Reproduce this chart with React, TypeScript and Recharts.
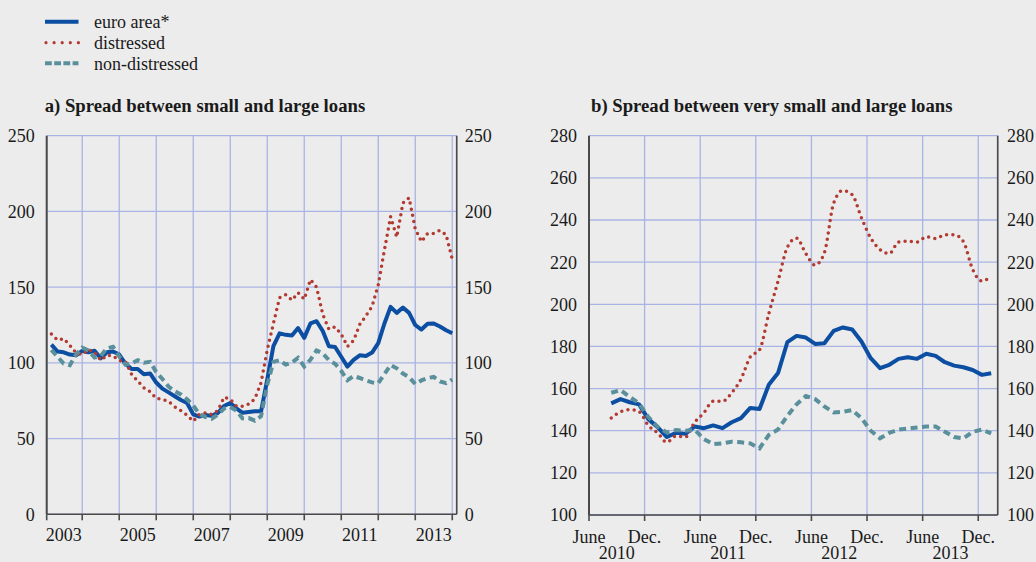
import React from "react";
import { LineChart, Line, XAxis, YAxis, CartesianGrid } from "recharts";

const FONT = "'Liberation Serif', 'Times New Roman', Times, serif";
const BG = "#ececec";
const GRID = "#aab4e4";
const AXIS = "#4a4a4a";
const INK = "#1a1a1a";
const BLUE = "#0b4ea2";
const RED = "#b23a30";
const TEAL = "#5a909b";

/* ── Panel a: bimonthly, end Feb 2003 … end Dec 2013 ───────────────── */
const A_START_YEAR = 2003;
const A_EURO = [
  112, 107.5, 107, 105.5, 105, 108, 107, 108, 103, 107,
  107.5, 105.5, 99.5, 96, 96, 92.5, 93, 87, 83, 80.5,
  78, 75.5, 73.5, 66, 64.5, 65.5, 65, 67, 71.5, 73.5,
  70, 67, 67.5, 68, 68, 89, 111, 119.5, 118.5, 118,
  123, 116.5, 126, 127.5, 121, 111, 110.5, 104, 97.5, 102,
  105, 104.5, 106.8, 113, 126, 137, 133, 136.5, 133, 125,
  122, 125.8, 126, 124, 121.5, 119.5,
];
const A_DIST = [
  119, 115, 116, 111.5, 106.5, 105.5, 108.8, 107, 101.7, 105,
  104.5, 101.5, 101, 92.5, 88, 83.5, 81, 76.5, 76, 74.5,
  71, 68.5, 65.5, 61.5, 66, 67, 66, 68.5, 77.3, 76.1,
  71.5, 71.3, 72.8, 76.3, 87, 108.5, 126, 143, 145, 141.4,
  146.4, 142, 155, 150, 132, 122.2, 123.7, 119, 110.8, 114.7,
  125.4, 131, 137.3, 151.5, 174.5, 196.5, 183, 205.5, 209, 188.5,
  180, 185.5, 185.5, 187.5, 184.6, 168.5,
];
const A_NONDIST = [
  108.5, 104, 99.5, 98.5, 105.6, 110, 108.2, 103.5, 104.5, 109.6,
  110.6, 104.3, 98.8, 99.5, 101.8, 100.1, 100.7, 94, 89.3, 84.3,
  81.2, 79.2, 75.9, 71.8, 66.2, 64.2, 63.1, 65.8, 69.8, 70.9,
  68.4, 63.3, 63.5, 61.8, 64.8, 85.5, 100.7, 101.8, 98.9, 100.2,
  103.3, 97.6, 102, 108.2, 106.3, 101.8, 99.4, 94.7, 88.5, 91.3,
  90, 88.4, 87.1, 86.5, 92.6, 98.5, 96.4, 92.9, 90.6, 86,
  88.4, 90, 90.7, 87.8, 86.6, 89,
];
const A_XMIN = 2003.04;
const A_XMAX = 2014.12;
const A_YEAR_TICKS = [A_XMIN, 2004, 2005, 2006, 2007, 2008, 2009, 2010, 2011, 2012, 2013, 2014];
const A_YEAR_LABELS = [2003, 2005, 2007, 2009, 2011, 2013];
const A_Y_TICKS = [0, 50, 100, 150, 200, 250];

/* ── Panel b: monthly, months counted from June 2010 ───────────────── */
const B_FIRST_MONTH = 2;
const B_OFFSET = 0.4;
const B_EURO = [
  153, 155, 153.5, 152.5, 145.5, 141.7, 137, 139, 138.5, 142,
  141.2, 142.5, 141.2, 144, 146, 150.8, 150.3, 161.8, 167.4, 182,
  185, 184.2, 181.2, 181.5, 187.4, 189, 188, 182.3, 174.4, 169.7,
  171.3, 174.1, 174.9, 174.1, 176.5, 175.5, 172.5, 170.9, 170.1, 168.8,
  166.5, 167.3,
];
const B_DIST = [
  146, 149, 150, 149, 142.5, 139, 134.5, 137.5, 137, 144,
  148.5, 154, 154, 158, 164.5, 175, 178.4, 195.5, 211, 227,
  231.4, 224, 218.6, 224.5, 248, 254, 252, 241, 231.4, 226,
  224, 229.5, 230, 229.5, 232, 231.2, 233, 233, 229.7, 216.5,
  211, 213.5,
];
const B_NONDIST = [
  158, 159.3, 156, 153, 146.5, 141.8, 139.2, 140.3, 140, 140.5,
  136, 133.6, 134, 134.8, 134.5, 134, 131.6, 138, 140.6, 147,
  152.5, 156.5, 155, 151.5, 148.7, 149, 149.8, 146, 140, 136.4,
  139, 140.5, 141, 141.5, 142, 142, 139.5, 137, 136.4, 139.5,
  140.5, 138.7,
];
const B_XMAX = 44.1;
const B_MONTH_TICKS = [0, 6, 12, 18, 24, 30, 36, 42];
const B_YEAR_POS = [3, 15, 27, 39];
const B_YEARS = ["2010", "2011", "2012", "2013"];
const B_Y_TICKS = [100, 120, 140, 160, 180, 200, 220, 240, 260, 280];

const aData = A_EURO.map((v, i) => ({
  t: A_START_YEAR + (2 + 2 * i) / 12,
  euro: v,
  dist: A_DIST[i],
  nondist: A_NONDIST[i],
}));

const bData = B_EURO.map((v, i) => ({
  m: B_FIRST_MONTH + i + B_OFFSET,
  euro: v,
  dist: B_DIST[i],
  nondist: B_NONDIST[i],
}));

const tickText = { fontSize: 18, fill: INK, fontFamily: FONT };
const axisStroke = { stroke: AXIS, strokeWidth: 1.6 };

function seriesLines(distType: "linear" | "monotone") {
  return [
    <Line
      key="euro"
      type="linear"
      dataKey="euro"
      stroke={BLUE}
      strokeWidth={4}
      strokeLinejoin="round"
      dot={false}
      activeDot={false}
      isAnimationActive={false}
    />,
    <Line
      key="dist"
      type={distType}
      dataKey="dist"
      stroke={RED}
      strokeWidth={3.5}
      strokeLinecap="round"
      strokeDasharray="0 6.3"
      dot={false}
      activeDot={false}
      isAnimationActive={false}
    />,
    <Line
      key="nondist"
      type="linear"
      dataKey="nondist"
      stroke={TEAL}
      strokeWidth={4}
      strokeDasharray="7 4.5"
      dot={false}
      activeDot={false}
      isAnimationActive={false}
    />,
  ];
}

export default function App() {
  return (
    <div
      style={{
        position: "absolute",
        left: 0,
        top: 0,
        width: 1036,
        height: 562,
        background: BG,
        fontFamily: FONT,
        overflow: "hidden",
      }}
    >
      <svg
        width={1036}
        height={562}
        style={{ position: "absolute", left: 0, top: 0 }}
        fontFamily={FONT}
      >
        <line x1={45} x2={78.5} y1={21.7} y2={21.7} stroke={BLUE} strokeWidth={4} />
        <line
          x1={46}
          x2={79}
          y1={42.7}
          y2={42.7}
          stroke={RED}
          strokeWidth={3.2}
          strokeLinecap="round"
          strokeDasharray="0 8.1"
        />
        <line
          x1={45}
          x2={78.5}
          y1={63.3}
          y2={63.3}
          stroke={TEAL}
          strokeWidth={4}
          strokeDasharray="6.8 2.4"
        />
        <text x={94} y={28.3} fontSize={18} fill={INK}>euro area*</text>
        <text x={94} y={49} fontSize={18} fill={INK}>distressed</text>
        <text x={94} y={69.7} fontSize={18} fill={INK}>non-distressed</text>
        <text x={44.7} y={111.5} fontSize={18.7} fontWeight="bold" fill={INK}>
          a) Spread between small and large loans
        </text>
        <text x={591} y={111.5} fontSize={18.7} fontWeight="bold" fill={INK}>
          b) Spread between very small and large loans
        </text>
      </svg>

      <div style={{ position: "absolute", left: 0, top: 0 }}>
        <LineChart
          width={520}
          height={562}
          data={aData}
          margin={{ top: 135.7, right: 23.3, bottom: 15.7, left: 10.7 }}
        >
          <CartesianGrid stroke={GRID} strokeWidth={1.3} />
          <XAxis
            type="number"
            dataKey="t"
            domain={[A_XMIN, A_XMAX]}
            ticks={A_YEAR_TICKS}
            interval={0}
            allowDataOverflow
            tickFormatter={() => ""}
            tick={tickText}
            tickSize={6}
            height={7}
            axisLine={axisStroke}
            tickLine={axisStroke}
          />
          <XAxis
            xAxisId="yr"
            type="number"
            dataKey="t"
            domain={[A_XMIN, A_XMAX]}
            ticks={A_YEAR_LABELS.map((y) => y + 0.5)}
            interval={0}
            allowDataOverflow
            tickFormatter={(v: number) => String(Math.floor(v))}
            tick={tickText}
            tickSize={0}
            tickMargin={7}
            height={25}
            axisLine={false}
            tickLine={false}
          />
          <YAxis
            domain={[0, 250]}
            ticks={A_Y_TICKS}
            interval={0}
            allowDataOverflow
            width={36}
            tickSize={0}
            tickMargin={12}
            tick={tickText}
            axisLine={{ stroke: AXIS, strokeWidth: 2 }}
            tickLine={false}
          />
          <YAxis
            yAxisId="r"
            orientation="right"
            domain={[0, 250]}
            ticks={A_Y_TICKS}
            interval={0}
            allowDataOverflow
            width={40}
            tickSize={0}
            tickMargin={8}
            tick={tickText}
            axisLine={axisStroke}
            tickLine={false}
          />
          {seriesLines("linear")}
        </LineChart>
      </div>

      <div style={{ position: "absolute", left: 540, top: 0 }}>
        <LineChart
          width={496}
          height={562}
          data={bData}
          margin={{ top: 135.7, right: 0.3, bottom: 0, left: 11 }}
        >
          <CartesianGrid stroke={GRID} strokeWidth={1.3} />
          <XAxis
            type="number"
            dataKey="m"
            domain={[0, B_XMAX]}
            ticks={B_MONTH_TICKS}
            interval={0}
            allowDataOverflow
            tickFormatter={(v: number) => (v % 12 === 0 ? "June" : "Dec.")}
            tick={tickText}
            tickSize={6}
            tickMargin={9}
            height={30}
            axisLine={axisStroke}
            tickLine={axisStroke}
          />
          <XAxis
            xAxisId="yr"
            type="number"
            dataKey="m"
            domain={[0, B_XMAX]}
            ticks={B_YEAR_POS}
            interval={0}
            allowDataOverflow
            tickFormatter={(v: number) => B_YEARS[B_YEAR_POS.indexOf(v)]}
            tick={tickText}
            tickSize={0}
            tickMargin={1.5}
            height={17}
            axisLine={false}
            tickLine={false}
          />
          <YAxis
            domain={[100, 280]}
            ticks={B_Y_TICKS}
            interval={0}
            allowDataOverflow
            width={38}
            tickSize={0}
            tickMargin={12}
            tick={tickText}
            axisLine={{ stroke: AXIS, strokeWidth: 2 }}
            tickLine={false}
          />
          <YAxis
            yAxisId="r"
            orientation="right"
            domain={[100, 280]}
            ticks={B_Y_TICKS}
            interval={0}
            allowDataOverflow
            width={38}
            tickSize={0}
            tickMargin={9.3}
            tick={tickText}
            axisLine={axisStroke}
            tickLine={false}
          />
          {seriesLines("monotone")}
        </LineChart>
      </div>
    </div>
  );
}
